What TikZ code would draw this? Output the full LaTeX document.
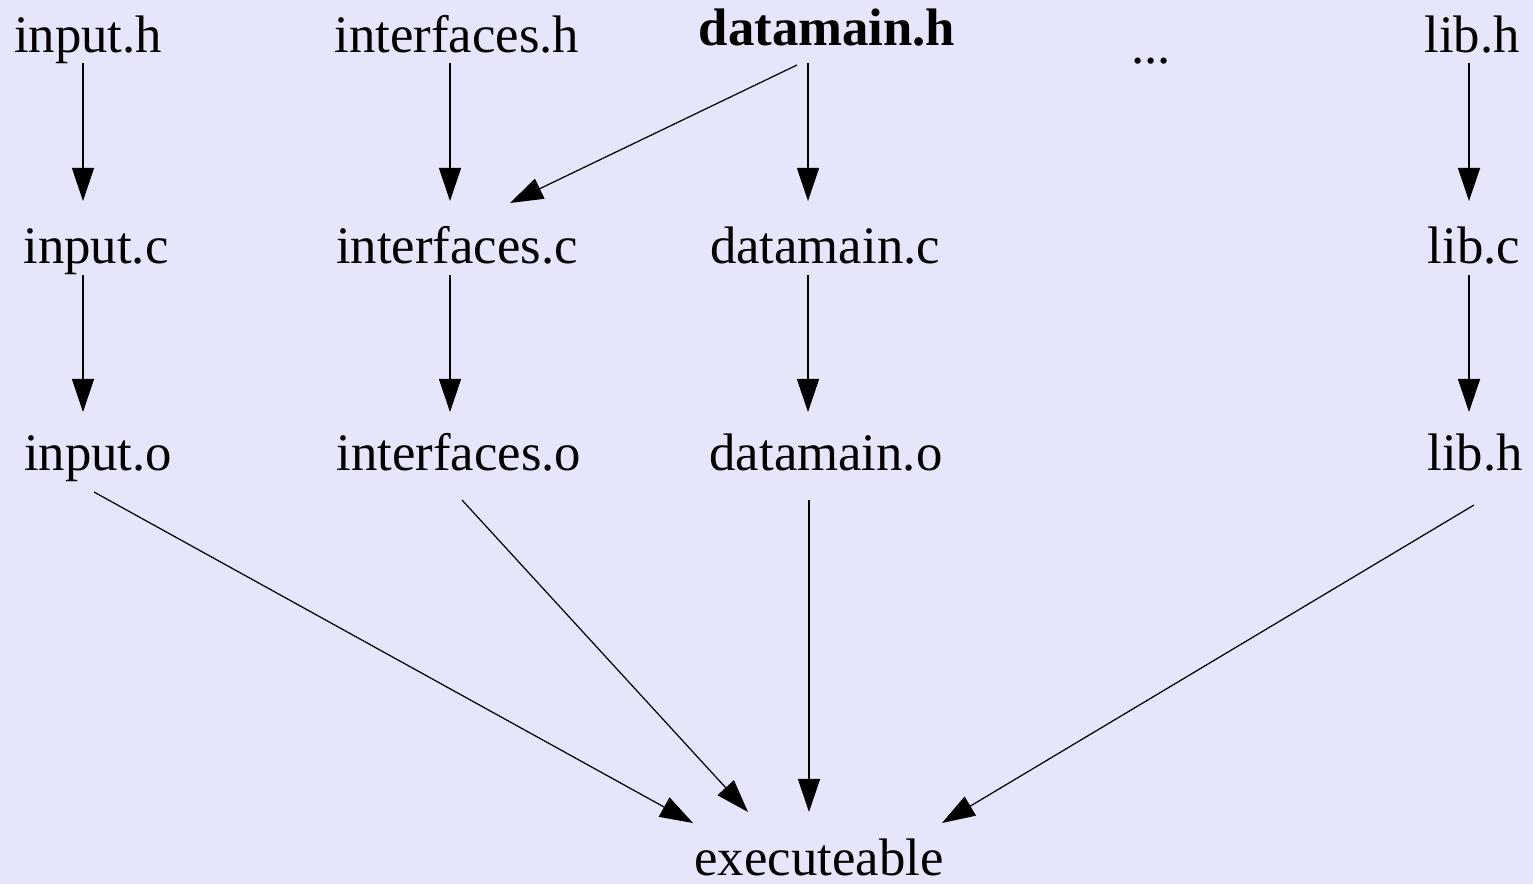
\documentclass[tikz,border=0pt]{standalone}
\usepackage{fontspec}
\setmainfont{Liberation Serif}
\usetikzlibrary{arrows.meta}
\definecolor{bgcol}{HTML}{E6E6FA}
\begin{document}
\begin{tikzpicture}[x=0.01cm, y=-0.01cm,
  lbl/.style={anchor=base, inner sep=0pt, font=\fontsize{15pt}{18pt}\selectfont},
  arr/.style={draw=black, line width=0.35pt, -{Triangle[length=0.33cm, width=0.22cm]}}]
\fill[bgcol] (0,0) rectangle (1533,884);
\useasboundingbox (0,0) rectangle (1533,884);
% row 1
\node[lbl] (ih) at (88,52) {input.h};
\node[lbl] (fh) at (457,52) {interfaces.h};
\node[lbl, font=\fontsize{15pt}{18pt}\selectfont\bfseries] (dh) at (827,45) {datamain.h};
\node[lbl] (dots) at (1151,63) {...};
\node[lbl] (lh) at (1472,52) {lib.h};
% row 2
\node[lbl] (ic) at (96,263) {input.c};
\node[lbl] (fc) at (457,263) {interfaces.c};
\node[lbl] (dc) at (825,263) {datamain.c};
\node[lbl] (lc) at (1474,263) {lib.c};
% row 3
\node[lbl] (io) at (98,470) {input.o};
\node[lbl] (fo) at (459,470) {interfaces.o};
\node[lbl] (do) at (826,470) {datamain.o};
\node[lbl] (lo) at (1475,470) {lib.h};
% bottom
\node[lbl] (ex) at (819,875) {executeable};
% arrows row 1 -> 2
\draw[arr] ([shift={(-5,11)}]ih.base) -- ([shift={(-13,-62)}]ic.base);
\draw[arr] ([shift={(-7,11)}]fh.base) -- ([shift={(-7,-62)}]fc.base);
\draw[arr] ([shift={(-19,18)}]dh.base) -- ([shift={(-17,-62)}]dc.base);
\draw[arr] ([shift={(-30,20)}]dh.base) -- ([shift={(53,-60)}]fc.base);
\draw[arr] ([shift={(-3,11)}]lh.base) -- ([shift={(-5,-62)}]lc.base);
% arrows row 2 -> 3
\draw[arr] ([shift={(-13,12)}]ic.base) -- ([shift={(-15,-58)}]io.base);
\draw[arr] ([shift={(-7,12)}]fc.base) -- ([shift={(-9,-58)}]fo.base);
\draw[arr] ([shift={(-17,12)}]dc.base) -- ([shift={(-18,-58)}]do.base);
\draw[arr] ([shift={(-5,12)}]lc.base) -- ([shift={(-6,-58)}]lo.base);
% arrows row 3 -> executeable
\draw[arr] ([shift={(-4,22)}]io.base) -- ([shift={(-126,-52)}]ex.base);
\draw[arr] ([shift={(3,30)}]fo.base) -- ([shift={(-71,-63)}]ex.base);
\draw[arr] ([shift={(-17,30)}]do.base) -- ([shift={(-10,-63)}]ex.base);
\draw[arr] ([shift={(-1,35)}]lo.base) -- ([shift={(123,-52)}]ex.base);
\end{tikzpicture}
\end{document}
